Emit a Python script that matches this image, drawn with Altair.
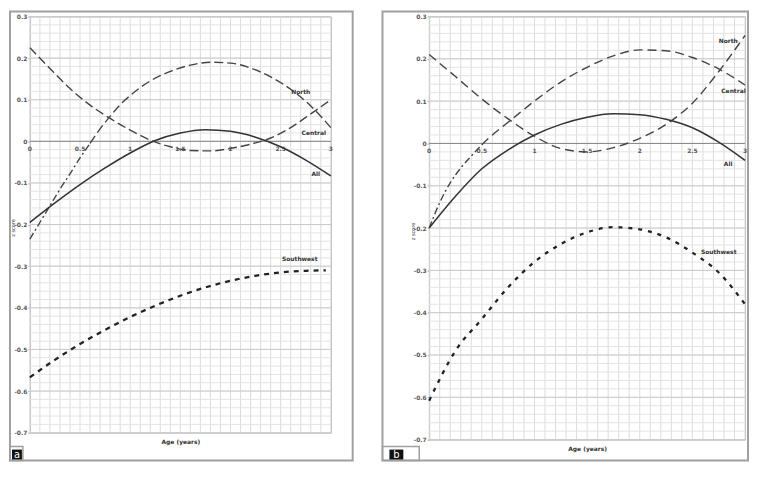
import altair as alt
import pandas as pd

# ---------------- data ----------------
Y_TICKS = [-0.7, -0.6, -0.5, -0.4, -0.3, -0.2, -0.1, 0, 0.1, 0.2, 0.3]
X_LABEL_POS = [0, 0.5, 1, 1.5, 2, 2.5, 3]
X_LABEL_TXT = ["0", "0.5", "1", "1.5", "2", "2.5", "3"]
X_GRID = [round(i * 0.1, 1) for i in range(31)]
Y_GRID_MINOR = [round(-0.7 + i * 0.02, 2) for i in range(51)]

# panel a
A_ALL_X = [0, 0.25, 0.5, 0.75, 1, 1.25, 1.5, 1.75, 2, 2.25, 2.5, 2.75, 3]
A_ALL_Y = [-0.195, -0.148, -0.104, -0.064, -0.028, 0.002, 0.02, 0.028, 0.024, 0.01, -0.013, -0.045, -0.083]
A_CEN_X = [0, 0.1, 0.2, 0.3, 0.4, 0.5, 0.6, 0.7, 0.8, 0.9, 1.0, 1.2, 1.4, 1.6, 1.8, 2.0, 2.2, 2.4, 2.6, 2.8, 3.0]
A_CEN_Y = [-0.235, -0.195, -0.155, -0.115, -0.078, -0.04, -0.005, 0.03, 0.06, 0.088, 0.11, 0.145, 0.168, 0.183, 0.19, 0.188, 0.176, 0.155, 0.125, 0.085, 0.033]
A_CEN_SPLIT = 0.6
A_NOR_X = [0, 0.2, 0.4, 0.6, 0.8, 1.0, 1.2, 1.4, 1.6, 1.8, 2.0, 2.2, 2.4, 2.6, 2.8, 3.0]
A_NOR_Y = [0.225, 0.175, 0.127, 0.087, 0.055, 0.027, 0.003, -0.013, -0.022, -0.023, -0.017, -0.007, 0.008, 0.033, 0.066, 0.1]
A_SW_X = [0, 0.25, 0.5, 0.75, 1, 1.25, 1.5, 1.75, 2, 2.25, 2.5, 2.75, 2.95]
A_SW_Y = [-0.567, -0.525, -0.487, -0.453, -0.422, -0.395, -0.371, -0.351, -0.335, -0.323, -0.315, -0.311, -0.31]
A_LAB_TXT = ["North", "Central", "All", "Southwest"]
A_LAB_X = [2.70, 2.83, 2.85, 2.69]
A_LAB_Y = [0.119, 0.021, -0.079, -0.283]

# panel b
B_ALL_X = [0, 0.25, 0.5, 0.75, 1, 1.25, 1.5, 1.75, 2, 2.25, 2.5, 2.75, 3]
B_ALL_Y = [-0.2, -0.125, -0.06, -0.015, 0.02, 0.045, 0.062, 0.07, 0.068, 0.057, 0.037, 0.003, -0.04]
B_CEN_X = [0, 0.1, 0.2, 0.3, 0.4, 0.5, 0.6, 0.75, 1.0, 1.25, 1.5, 1.75, 2.0, 2.25, 2.5, 2.75, 3.0]
B_CEN_Y = [-0.2, -0.14, -0.093, -0.058, -0.03, -0.003, 0.02, 0.05, 0.1, 0.145, 0.18, 0.207, 0.221, 0.219, 0.203, 0.176, 0.138]
B_CEN_SPLIT = 0.5
B_NOR_X = [0, 0.25, 0.5, 0.75, 1, 1.25, 1.5, 1.75, 2, 2.25, 2.5, 2.75, 3]
B_NOR_Y = [0.21, 0.158, 0.105, 0.058, 0.017, -0.012, -0.02, -0.01, 0.012, 0.045, 0.095, 0.17, 0.255]
B_SW_X = [0, 0.25, 0.5, 0.75, 1, 1.25, 1.5, 1.75, 2, 2.25, 2.5, 2.75, 3]
B_SW_Y = [-0.608, -0.49, -0.415, -0.34, -0.28, -0.238, -0.21, -0.198, -0.203, -0.222, -0.258, -0.305, -0.38]
B_LAB_TXT = ["North", "Central", "All", "Southwest"]
B_LAB_X = [2.84, 2.89, 2.84, 2.75]
B_LAB_Y = [0.243, 0.123, -0.049, -0.256]

FONT = "DejaVu Sans"
FRAME_TOP = -5      # relative to plot top
FRAME_BOTTOM = 447  # relative to plot top


def df(xs, ys):
    return pd.DataFrame({"x": xs, "y": ys})


def panel(W, H, all_xy, cen_xy, split, nor_xy, sw_xy, labs, letter, frame_x, box_x, sq_x,
          dash_long, sw_dash):
    X = alt.X("x:Q", scale=alt.Scale(domain=[0, 3], nice=False, zero=False),
              axis=alt.Axis(title="Age (years)", labels=False, ticks=False, domain=False,
                            grid=False, titleFont=FONT, titleFontSize=6, titleFontWeight="bold",
                            titleColor="#333", titlePadding=6))
    Y = alt.Y("y:Q", scale=alt.Scale(domain=[-0.7, 0.3], nice=False, zero=False),
              axis=alt.Axis(title="z score", values=Y_TICKS,
                            labelExpr="replace(format(datum.value, '.1~f'), '\u2212', '-')",
                            labelFont=FONT, labelFontSize=6, labelFontWeight="bold",
                            labelColor="#555", labelPadding=1, tickSize=2, tickColor="#999",
                            domain=False, grid=False, titleFont=FONT, titleFontSize=5,
                            titleFontWeight="normal", titleColor="#333",
                            titleX=-17, titleY=H / 2 + 3, titleBaseline="middle"))

    layers = []
    layers.append(alt.Chart(pd.DataFrame({"x": X_GRID})).mark_rule(color="#dcdcdc", strokeWidth=1).encode(x=X))
    layers.append(alt.Chart(pd.DataFrame({"y": Y_GRID_MINOR})).mark_rule(color="#e3e3e3", strokeWidth=1).encode(y=Y))
    layers.append(alt.Chart(pd.DataFrame({"y": Y_TICKS})).mark_rule(color="#cacaca", strokeWidth=1).encode(y=Y))
    layers.append(alt.Chart(pd.DataFrame({"y": [0]})).mark_rule(color="#888", strokeWidth=1).encode(y=Y))
    layers.append(alt.Chart(pd.DataFrame({"x": X_LABEL_POS, "y": [0] * 7, "t": X_LABEL_TXT}))
                  .mark_text(dy=8, font=FONT, fontSize=6, fontWeight="bold", color="#555")
                  .encode(x=X, y=Y, text="t:N"))

    cx, cy = cen_xy
    d1 = df([a for a in cx if a <= split], [b for a, b in zip(cx, cy) if a <= split])
    d2 = df([a for a in cx if a >= split], [b for a, b in zip(cx, cy) if a >= split])
    layers.append(alt.Chart(d1).mark_line(color="#444", strokeWidth=1.4, strokeDash=[7, 3, 2, 3],
                                          interpolate="monotone").encode(x=X, y=Y))
    layers.append(alt.Chart(d2).mark_line(color="#444", strokeWidth=1.4, strokeDash=dash_long,
                                          interpolate="monotone").encode(x=X, y=Y))
    layers.append(alt.Chart(df(*nor_xy)).mark_line(color="#444", strokeWidth=1.4, strokeDash=dash_long,
                                                   interpolate="monotone").encode(x=X, y=Y))
    layers.append(alt.Chart(df(*all_xy)).mark_line(color="#333", strokeWidth=1.5,
                                                   interpolate="monotone").encode(x=X, y=Y))
    layers.append(alt.Chart(df(*sw_xy)).mark_line(color="#222", strokeWidth=2.3, strokeDash=sw_dash,
                                                  interpolate="monotone").encode(x=X, y=Y))
    lt, lx, ly = labs
    layers.append(alt.Chart(pd.DataFrame({"x": lx, "y": ly, "t": lt}))
                  .mark_text(font=FONT, fontSize=6, fontWeight="bold", color="#333")
                  .encode(x=X, y=Y, text="t:N"))

    # panel frame and letter box
    layers.append(alt.Chart(pd.DataFrame({"k": [0]})).mark_rect(fill=None, stroke="#a0a0a0", strokeWidth=2)
                  .encode(x=alt.value(frame_x[0]), x2=alt.value(frame_x[1]),
                          y=alt.value(FRAME_TOP), y2=alt.value(FRAME_BOTTOM)))
    layers.append(alt.Chart(pd.DataFrame({"k": [0]})).mark_rect(fill=None, stroke="#a0a0a0", strokeWidth=1.5)
                  .encode(x=alt.value(box_x[0]), x2=alt.value(box_x[1]),
                          y=alt.value(433), y2=alt.value(FRAME_BOTTOM)))
    layers.append(alt.Chart(pd.DataFrame({"k": [0]})).mark_rect(fill="#111")
                  .encode(x=alt.value(sq_x[0]), x2=alt.value(sq_x[1]),
                          y=alt.value(436), y2=alt.value(446)))
    layers.append(alt.Chart(pd.DataFrame({"k": [0]})).mark_text(font=FONT, fontSize=10, color="white",
                                                                 baseline="middle")
                  .encode(x=alt.value((sq_x[0] + sq_x[1]) / 2), y=alt.value(441), text=alt.value(letter)))

    return alt.layer(*layers).properties(width=W, height=H)


pa = panel(303, 419, (A_ALL_X, A_ALL_Y), (A_CEN_X, A_CEN_Y), A_CEN_SPLIT, (A_NOR_X, A_NOR_Y),
           (A_SW_X, A_SW_Y), (A_LAB_TXT, A_LAB_X, A_LAB_Y), "a",
           frame_x=(-20, 325), box_x=(-20, -7), sq_x=(-18, -8), dash_long=[9, 4], sw_dash=[5, 5])
pb = panel(318, 426, (B_ALL_X, B_ALL_Y), (B_CEN_X, B_CEN_Y), B_CEN_SPLIT, (B_NOR_X, B_NOR_Y),
           (B_SW_X, B_SW_Y), (B_LAB_TXT, B_LAB_X, B_LAB_Y), "b",
           frame_x=(-47, 321), box_x=(-47, -10), sq_x=(-40, -26), dash_long=[9, 5], sw_dash=[4, 6])

chart = (alt.hconcat(pa, pb, spacing=26)
         .properties(padding=0, background="white")
         .configure_view(stroke="#b0b0b0", strokeWidth=1))

chart.save("out.html", embed_options={"renderer": "svg", "actions": False})
